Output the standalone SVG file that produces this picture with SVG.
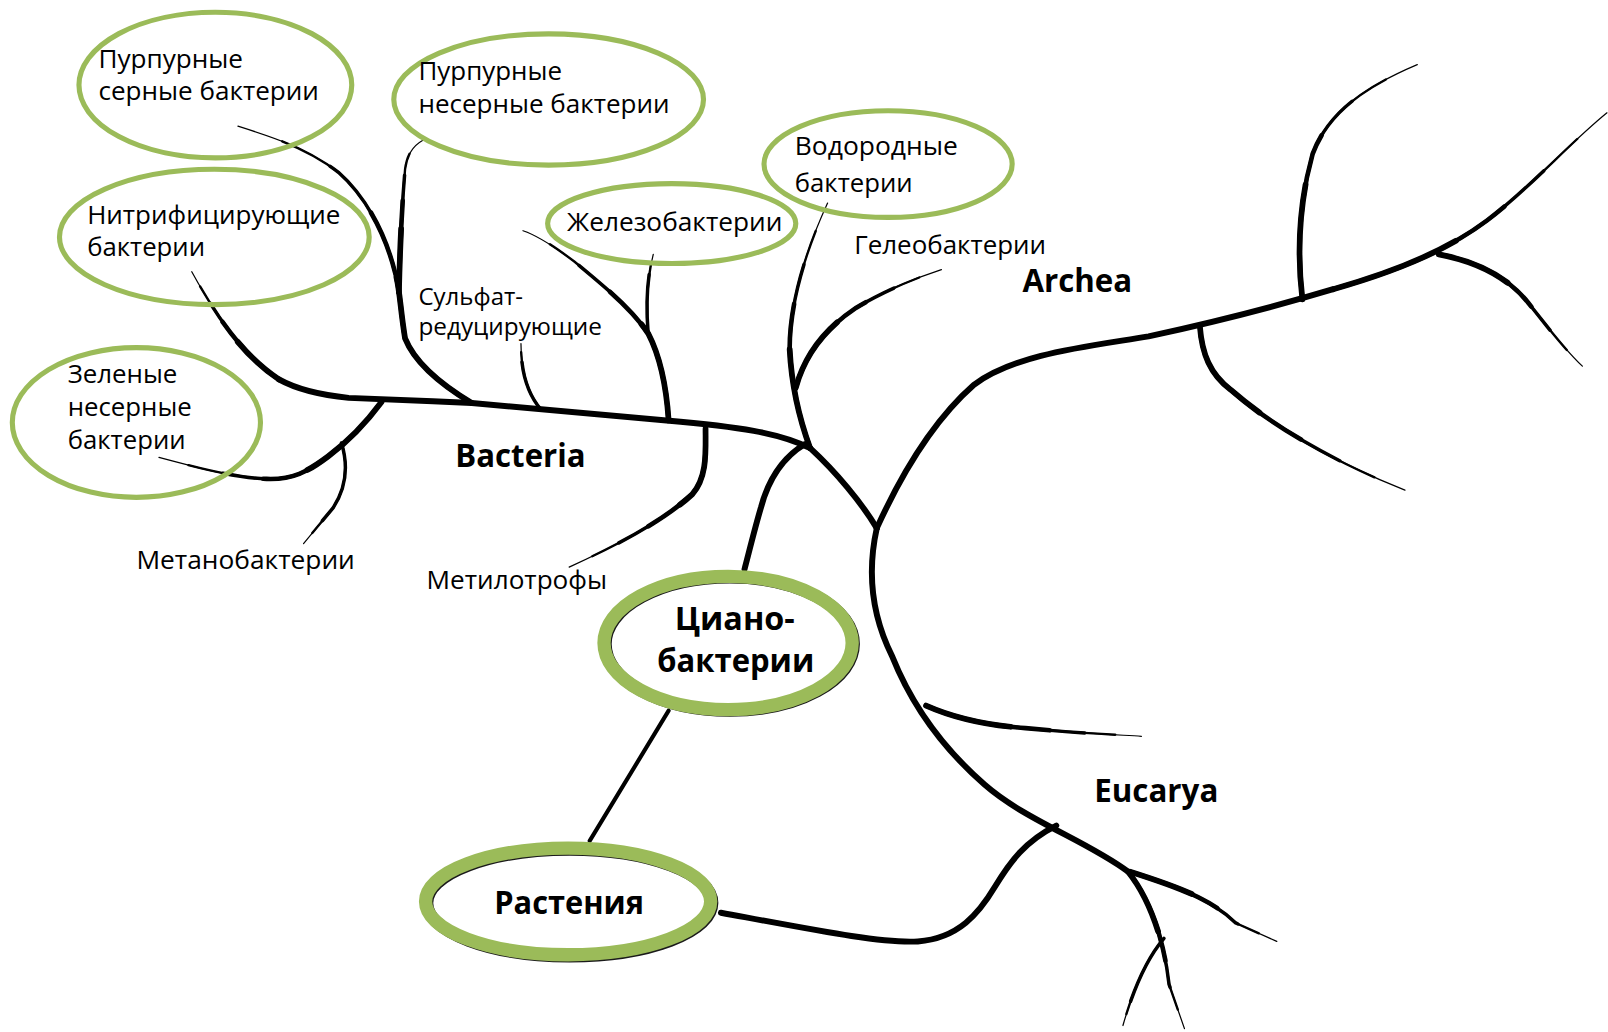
<svg xmlns="http://www.w3.org/2000/svg" xmlns:xlink="http://www.w3.org/1999/xlink" width="1608" height="1032" viewBox="0 0 1608 1032">
<style>
.bg{fill:#fff}
.br{fill:none;stroke:#000;stroke-linecap:round;stroke-linejoin:round}
.w1{stroke-width:1.2}
.w2{stroke-width:2.3;stroke-dasharray:88 300}
.w3{stroke-width:3.4;stroke-dasharray:74 300}
.w4{stroke-width:4.5;stroke-dasharray:58 300}
.w5{stroke-width:5.6;stroke-dasharray:40 300}
.thick{stroke-width:5.8}
.link{stroke-width:4}
.ov{fill:none;stroke:#9BBB59;stroke-width:5}
.ovb{fill:none;stroke:#9BBB59;stroke-width:13}
.sh{fill:none;stroke:#1a1a1a;stroke-width:12}
.t{font-family:"Open Sans","Noto Sans",sans-serif;font-size:25px;fill:#000}
.s{font-size:23.5px}
.b{font-family:"Open Sans","Noto Sans",sans-serif;font-weight:700;font-size:30.5px;fill:#000}
.bb{font-size:31px}
</style>
<defs>
<path id="pNitr" pathLength="100" d="M272,370 C245,352 220,325 187,265"/>
<path id="pGreen" pathLength="100" d="M372,392 C355,415 340,430 320,445 C300,460 285,468 260,467 C230,466 200,458 155,446"/>
<path id="pMetano" pathLength="100" d="M333,432 C340,455 338,475 325,495 L296,530"/>
<path id="pPurS" pathLength="100" d="M460,393 C430,375 405,355 395,330 C390,300 390,280 385,265 C375,225 355,190 330,168 C300,145 270,135 232,123"/>
<path id="pPurN" pathLength="100" d="M389,285 C390,240 392,200 395,165 C397,150 403,142 412,137"/>
<path id="pSulf" pathLength="100" d="M528,400 C515,385 508,365 508,335"/>
<path id="pIron" pathLength="100" d="M652,410 C650,380 645,350 632,325 C615,300 590,280 560,255 C540,240 525,230 510,225"/>
<path id="pIron2" pathLength="100" d="M632,325 C630,300 630,275 637,248"/>
<path id="pMethyl" pathLength="100" d="M688,418 C688,440 690,465 675,482 C650,505 610,528 555,553"/>
<path id="pHydro" pathLength="100" d="M790,437 C780,410 772,380 770,340 C770,290 790,235 807,198"/>
<path id="pHelio" pathLength="100" d="M776,378 C785,345 805,320 835,300 C860,285 890,272 918,263"/>
<path id="pArch" pathLength="100" d="M1300,282 C1360,265 1410,245 1450,215 C1490,185 1530,140 1567,110"/>
<path id="pArchD" pathLength="100" d="M1170,318 C1172,345 1180,365 1200,380 C1240,415 1300,450 1370,478"/>
<path id="pArchU" pathLength="100" d="M1270,292 C1265,250 1266,200 1280,150 C1295,110 1330,85 1382,63"/>
<path id="pArchR" pathLength="100" d="M1403,248 C1440,255 1470,270 1490,295 C1510,320 1525,340 1543,357"/>
<path id="pEuk" pathLength="100" d="M1100,850 C1120,875 1135,915 1140,960 L1155,1003"/>
<path id="pEuk1" pathLength="100" d="M903,688 C930,700 960,707 1000,710 C1040,714 1080,716 1113,718"/>
<path id="pEukR" pathLength="100" d="M1102,850 C1140,862 1180,875 1205,900 L1245,918"/>
<path id="pEukD" pathLength="100" d="M1135,915 C1118,935 1105,965 1095,1000"/>
</defs>
<rect class="bg" x="0" y="0" width="1608" height="1032"/>
<g transform="scale(1.02551)">
<g id="connectors" class="br">
<path class="thick" d="M790,437 C760,422 720,416 650,410 C580,404 520,398 460,393 C420,391 390,390 340,388 C310,385 290,380 272,370"/>
<path class="thick" d="M785,433 C765,445 750,465 742,495 C736,515 730,540 726,555"/>
<path class="thick" d="M790,437 C815,460 840,490 855,515"/>
<path class="thick" d="M855,515 C880,460 910,410 950,375 C990,345 1060,338 1120,328 C1180,315 1240,300 1300,282"/>
<path class="thick" d="M855,515 C845,560 850,600 870,640 C890,690 920,730 960,765 C1000,800 1060,820 1100,850"/>
<path class="thick" d="M1030,805 C1000,820 985,840 970,865 C955,890 935,915 895,918 C860,920 800,908 703,890"/>
<path class="link" d="M652,693 L575,820"/>
<g><use href="#pNitr" class="w1"/><use href="#pNitr" class="w2"/><use href="#pNitr" class="w3"/><use href="#pNitr" class="w4"/><use href="#pNitr" class="w5"/></g>
<g><use href="#pGreen" class="w1"/><use href="#pGreen" class="w2"/><use href="#pGreen" class="w3"/><use href="#pGreen" class="w4"/><use href="#pGreen" class="w5"/></g>
<g><use href="#pMetano" class="w1"/><use href="#pMetano" class="w2"/><use href="#pMetano" class="w3"/></g>
<g><use href="#pPurS" class="w1"/><use href="#pPurS" class="w2"/><use href="#pPurS" class="w3"/><use href="#pPurS" class="w4"/><use href="#pPurS" class="w5"/></g>
<g><use href="#pPurN" class="w1"/><use href="#pPurN" class="w2"/><use href="#pPurN" class="w3"/><use href="#pPurN" class="w4"/><use href="#pPurN" class="w5"/></g>
<g><use href="#pSulf" class="w1"/><use href="#pSulf" class="w2"/><use href="#pSulf" class="w3"/></g>
<g><use href="#pIron" class="w1"/><use href="#pIron" class="w2"/><use href="#pIron" class="w3"/><use href="#pIron" class="w4"/><use href="#pIron" class="w5"/></g>
<g><use href="#pIron2" class="w1"/><use href="#pIron2" class="w2"/><use href="#pIron2" class="w3"/></g>
<g><use href="#pMethyl" class="w1"/><use href="#pMethyl" class="w2"/><use href="#pMethyl" class="w3"/><use href="#pMethyl" class="w4"/><use href="#pMethyl" class="w5"/></g>
<g><use href="#pHydro" class="w1"/><use href="#pHydro" class="w2"/><use href="#pHydro" class="w3"/><use href="#pHydro" class="w4"/><use href="#pHydro" class="w5"/></g>
<g><use href="#pHelio" class="w1"/><use href="#pHelio" class="w2"/><use href="#pHelio" class="w3"/><use href="#pHelio" class="w4"/><use href="#pHelio" class="w5"/></g>
<g><use href="#pArch" class="w1"/><use href="#pArch" class="w2"/><use href="#pArch" class="w3"/><use href="#pArch" class="w4"/><use href="#pArch" class="w5"/></g>
<g><use href="#pArchD" class="w1"/><use href="#pArchD" class="w2"/><use href="#pArchD" class="w3"/><use href="#pArchD" class="w4"/><use href="#pArchD" class="w5"/></g>
<g><use href="#pArchU" class="w1"/><use href="#pArchU" class="w2"/><use href="#pArchU" class="w3"/><use href="#pArchU" class="w4"/><use href="#pArchU" class="w5"/></g>
<g><use href="#pArchR" class="w1"/><use href="#pArchR" class="w2"/><use href="#pArchR" class="w3"/><use href="#pArchR" class="w4"/><use href="#pArchR" class="w5"/></g>
<g><use href="#pEuk" class="w1"/><use href="#pEuk" class="w2"/><use href="#pEuk" class="w3"/><use href="#pEuk" class="w4"/><use href="#pEuk" class="w5"/></g>
<g><use href="#pEuk1" class="w1"/><use href="#pEuk1" class="w2"/><use href="#pEuk1" class="w3"/><use href="#pEuk1" class="w4"/><use href="#pEuk1" class="w5"/></g>
<g><use href="#pEukR" class="w1"/><use href="#pEukR" class="w2"/><use href="#pEukR" class="w3"/><use href="#pEukR" class="w4"/><use href="#pEukR" class="w5"/></g>
<g><use href="#pEukD" class="w1"/><use href="#pEukD" class="w2"/><use href="#pEukD" class="w3"/></g>
</g>
<g id="purple-sulfur">
<ellipse class="ov" cx="210" cy="83" rx="133" ry="71"/>
<text class="t" x="96" y="66" textLength="141" lengthAdjust="spacingAndGlyphs">Пурпурные</text>
<text class="t" x="96" y="98" textLength="215" lengthAdjust="spacingAndGlyphs">серные бактерии</text>
</g>
<g id="purple-nonsulfur">
<ellipse class="ov" cx="535" cy="97" rx="151" ry="64"/>
<text class="t" x="408" y="78" textLength="140" lengthAdjust="spacingAndGlyphs">Пурпурные</text>
<text class="t" x="408" y="110" textLength="245" lengthAdjust="spacingAndGlyphs">несерные бактерии</text>
</g>
<g id="nitrifying">
<ellipse class="ov" cx="209" cy="231" rx="151" ry="66"/>
<text class="t" x="85" y="218" textLength="247" lengthAdjust="spacingAndGlyphs">Нитрифицирующие</text>
<text class="t" x="85" y="250" textLength="115" lengthAdjust="spacingAndGlyphs">бактерии</text>
</g>
<g id="green-nonsulfur">
<ellipse class="ov" cx="133" cy="412" rx="121" ry="73"/>
<text class="t" x="66" y="373" textLength="107" lengthAdjust="spacingAndGlyphs">Зеленые</text>
<text class="t" x="66" y="406" textLength="121" lengthAdjust="spacingAndGlyphs">несерные</text>
<text class="t" x="66" y="438" textLength="115" lengthAdjust="spacingAndGlyphs">бактерии</text>
</g>
<g id="iron">
<ellipse class="ov" cx="655" cy="218" rx="121" ry="39"/>
<text class="t" x="553" y="225" textLength="210" lengthAdjust="spacingAndGlyphs">Железобактерии</text>
</g>
<g id="hydrogen">
<ellipse class="ov" cx="866" cy="160" rx="121" ry="52"/>
<text class="t" x="775" y="151" textLength="159" lengthAdjust="spacingAndGlyphs">Водородные</text>
<text class="t" x="775" y="187" textLength="115" lengthAdjust="spacingAndGlyphs">бактерии</text>
</g>
<g id="helio"><text class="t" x="833" y="248" textLength="187" lengthAdjust="spacingAndGlyphs">Гелеобактерии</text></g>
<g id="sulfate">
<text class="t s" x="408" y="297" textLength="102" lengthAdjust="spacingAndGlyphs">Сульфат-</text>
<text class="t s" x="408" y="327" textLength="179" lengthAdjust="spacingAndGlyphs">редуцирующие</text>
</g>
<g id="metano"><text class="t" x="133" y="555" textLength="213" lengthAdjust="spacingAndGlyphs">Метанобактерии</text></g>
<g id="methyl"><text class="t" x="416" y="574" textLength="176" lengthAdjust="spacingAndGlyphs">Метилотрофы</text></g>
<g id="bacteria"><text class="b" x="444" y="455" textLength="127" lengthAdjust="spacingAndGlyphs">Bacteria</text></g>
<g id="archea"><text class="b" x="997" y="285" textLength="107" lengthAdjust="spacingAndGlyphs">Archea</text></g>
<g id="eucarya"><text class="b" x="1067" y="782" textLength="121" lengthAdjust="spacingAndGlyphs">Eucarya</text></g>
<g id="cyano">
<ellipse class="sh" cx="711.5" cy="628" rx="121" ry="65"/>
<ellipse class="ovb" cx="710" cy="627" rx="121" ry="65"/>
<text class="b bb" x="658" y="614" textLength="117" lengthAdjust="spacingAndGlyphs">Циано-</text>
<text class="b bb" x="641" y="655" textLength="153" lengthAdjust="spacingAndGlyphs">бактерии</text>
</g>
<g id="plants">
<ellipse class="sh" cx="555.5" cy="880.5" rx="139" ry="52"/>
<ellipse class="ovb" cx="554" cy="879" rx="139" ry="52"/>
<text class="b" x="482" y="891" textLength="146" lengthAdjust="spacingAndGlyphs">Растения</text>
</g>
</g>
</svg>
